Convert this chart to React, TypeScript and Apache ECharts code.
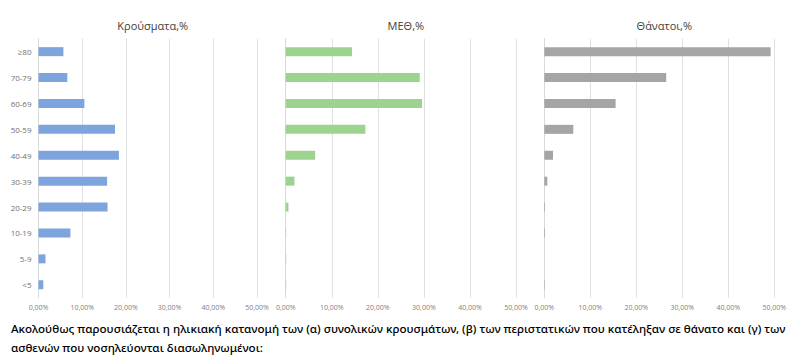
import React, { useEffect, useRef } from "react";
import * as echarts from "echarts";

const categories = ["<5", "5-9", "10-19", "20-29", "30-39", "40-49", "50-59", "60-69", "70-79", "≥80"];
const casesPct = [1.1, 1.6, 7.3, 15.8, 15.7, 18.4, 17.5, 10.5, 6.6, 5.7];
const icuPct = [0.1, 0.1, 0.1, 0.6, 1.9, 6.4, 17.3, 29.6, 29.1, 14.4];
const deathsPct = [0.1, 0, 0.15, 0.15, 0.65, 1.9, 6.3, 15.5, 26.5, 49.2];
const panelTitles = ["Κρούσματα,%", "ΜΕΘ,%", "Θάνατοι,%"];
const bottomLines = [
  "Ακολούθως παρουσιάζεται η ηλικιακή κατανομή των (α) συνολικών κρουσμάτων, (β) των περιστατικών που κατέληξαν σε θάνατο και (γ) των",
  "ασθενών που νοσηλεύονται διασωληνωμένοι:",
];

const grids = [
  { left: 38.5, width: 218.5 },
  { left: 285.7, width: 230.3 },
  { left: 544.3, width: 230 },
];
const colors = ["#7DA4DD", "#9CD38F", "#A5A5A5"];
const seriesData = [casesPct, icuPct, deathsPct];

export default function App() {
  const ref = useRef<HTMLDivElement>(null);
  useEffect(() => {
    if (!ref.current) return;
    const chart = echarts.init(ref.current, null, { renderer: "svg" });
    const fmt = (v: number) => v.toFixed(2).replace(".", ",") + "%";
    chart.setOption({
      animation: false,
      backgroundColor: "#ffffff",
      grid: grids.map((g) => ({ left: g.left, width: g.width, top: 38.7, height: 259 })),
      title: panelTitles.map((t, i) => ({
        text: t,
        left: grids[i].left + grids[i].width / 2,
        top: 15,
        textAlign: "center",
        textStyle: { fontSize: 11, fontWeight: "normal", color: "#404040", fontFamily: "Open Sans" },
      })),
      xAxis: grids.map((_, i) => ({
        type: "value",
        gridIndex: i,
        min: 0,
        max: 50,
        interval: 10,
        axisLine: { show: false },
        axisTick: { show: false },
        splitLine: { show: true, lineStyle: { color: "#e0e0e0", width: 1 } },
        axisLabel: {
          formatter: fmt,
          fontSize: 7,
          color: "#808080",
          margin: 6,
          fontFamily: "Open Sans",
        },
      })),
      yAxis: grids.map((_, i) => ({
        type: "category",
        gridIndex: i,
        data: categories,
        axisLine: { show: true, lineStyle: { color: "#d9d9d9" } },
        axisTick: { show: false },
        axisLabel: {
          show: i === 0,
          fontSize: 8,
          color: "#707070",
          margin: 7,
          fontFamily: "Open Sans",
        },
      })),
      series: seriesData.map((d, i) => ({
        type: "bar",
        xAxisIndex: i,
        yAxisIndex: i,
        data: d,
        barWidth: 9,
        itemStyle: { color: colors[i] },
      })),
      graphic: bottomLines.map((line, i) => ({
        type: "text",
        left: 11,
        top: 322 + i * 19,
        style: {
          text: line,
          fontSize: 11.6,
          fontWeight: 500,
          fill: "#000000",
          fontFamily: "Noto Sans",
        },
      })),
    });
    return () => chart.dispose();
  }, []);
  return (
    <div
      ref={ref}
      style={{ position: "fixed", left: 0, top: 0, width: 811, height: 362 }}
    />
  );
}
